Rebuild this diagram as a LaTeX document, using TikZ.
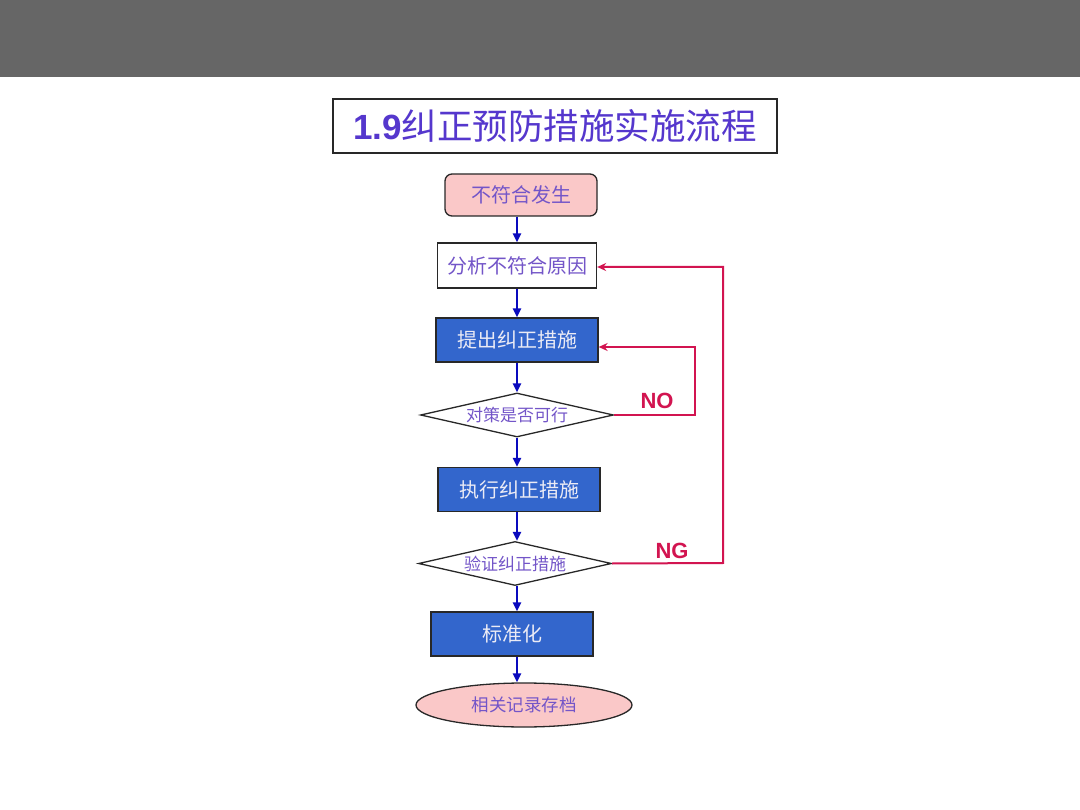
\documentclass[tikz,border=0pt]{standalone}
\usepackage{fontspec}
\setmainfont{Liberation Sans}
\newfontfamily\cjk{Noto Sans CJK SC}
\usetikzlibrary{shapes.geometric,arrows.meta}
\definecolor{barGray}{RGB}{102,102,102}
\definecolor{titleCol}{RGB}{85,55,205}
\definecolor{txtPurple}{RGB}{115,85,200}
\definecolor{pinkFill}{RGB}{250,200,200}
\definecolor{boxBlue}{RGB}{51,102,204}
\definecolor{lightTxt}{RGB}{235,235,245}
\definecolor{arrBlue}{RGB}{10,10,190}
\definecolor{redLine}{RGB}{210,20,80}
\definecolor{edgeCol}{RGB}{40,40,40}
\tikzset{
  base/.style={draw=edgeCol, line width=1.3pt, inner sep=0pt, font=\cjk\fontsize{20}{20}\selectfont},
  startbox/.style={base, rounded corners=7pt, fill=pinkFill, text=txtPurple, minimum width=152pt, minimum height=42pt},
  whitebox/.style={base, fill=white, text=txtPurple, minimum width=159pt, minimum height=45pt},
  bluebox/.style={base, fill=boxBlue, text=lightTxt, minimum width=162pt, minimum height=44pt},
  decide/.style={base, diamond, aspect=4.4, fill=white, text=txtPurple, minimum width=193pt, minimum height=44pt, font=\cjk\fontsize{17}{17}\selectfont},
  endell/.style={base, ellipse, fill=pinkFill, text=txtPurple, minimum width=216pt, minimum height=44pt, font=\cjk\fontsize{17.5}{17.5}\selectfont},
  flow/.style={draw=arrBlue, line width=2.2pt, -{Triangle[length=9pt,width=8pt]}},
  back/.style={draw=redLine, line width=2pt, -{Stealth[length=9pt,width=8pt]}},
  lbl/.style={text=redLine, font=\bfseries\fontsize{22}{22}\selectfont, inner sep=0pt}
}
\begin{document}
\begin{tikzpicture}[x=1pt,y=-1pt]
\useasboundingbox (0,0) rectangle (1080,810);
\fill[white] (0,0) rectangle (1080,810);
\fill[barGray] (0,0) rectangle (1080,77);
\node[draw=edgeCol, line width=1.2pt, fill=white, minimum width=444pt, minimum height=54pt, inner sep=0pt, text=titleCol] (title) at (555,126)
  {{\bfseries\fontsize{35}{35}\selectfont 1.9}{\cjk\fontsize{35.5}{35.5}\selectfont 纠正预防措施实施流程}};
\node[startbox] (n1) at (521,195) {不符合发生};
\node[whitebox] (n2) at (517,265.5) {分析不符合原因};
\node[bluebox] (n3) at (517,340) {提出纠正措施};
\node[decide] (d1) at (517,415) {对策是否可行};
\node[bluebox] (n4) at (519,489.5) {执行纠正措施};
\node[decide] (d2) at (515,563.5) {验证纠正措施};
\node[bluebox] (n5) at (512,634) {标准化};
\node[endell] (e1) at (524,705) {相关记录存档};
\draw[flow] (n1.south -| n2) -- (n2.north);
\draw[flow] (n2.south) -- (n3.north);
\draw[flow] (n3.south) -- (d1.north);
\draw[flow] (d1.south) -- (d1.south |- n4.north);
\draw[flow] (d1.south |- n4.south) -- (d1.south |- d2.north);
\draw[flow] (d1.south |- d2.south) -- (d1.south |- n5.north);
\draw[flow] (d1.south |- n5.south) -- (d1.south |- e1.north);
\coordinate (c1) at (695,415);
\coordinate (c2) at (695,347);
\coordinate (c3) at (723,563);
\coordinate (c4) at (723,267);
\draw[back] (d1.east) -- (c1) -- (c2) -- (n3.east |- c2);
\draw[back] (d2.east) -- (c3) -- (c4) -- (n2.east |- c4);
\node[lbl] (no) at (657,401) {NO};
\node[lbl] (ng) at (672,551) {NG};
\end{tikzpicture}
\end{document}
